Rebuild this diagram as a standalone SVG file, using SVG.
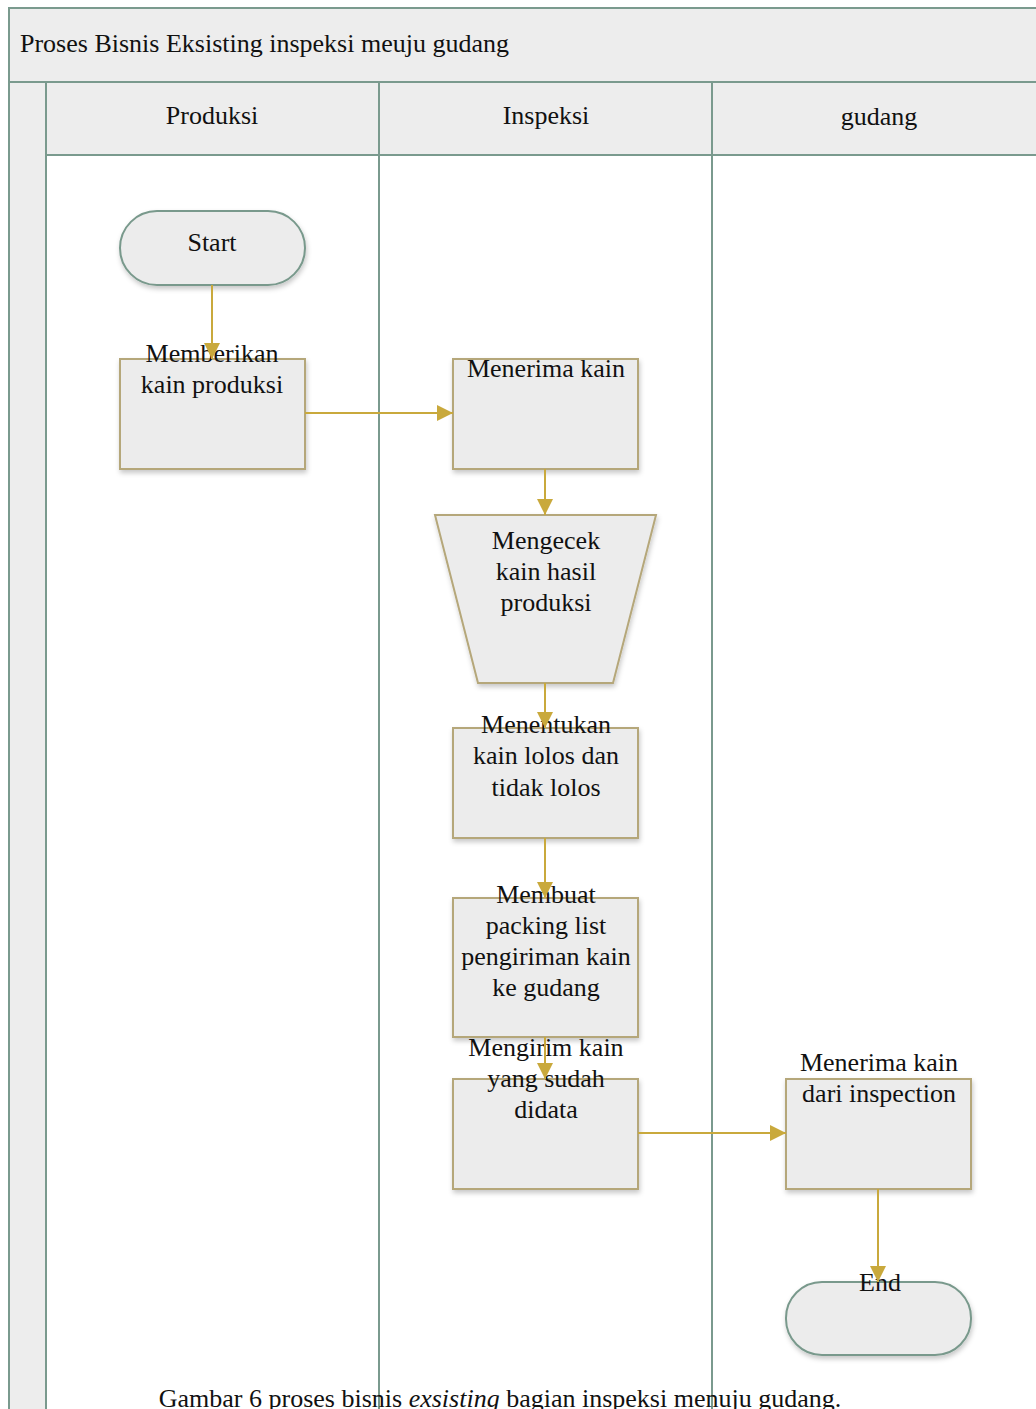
<svg xmlns="http://www.w3.org/2000/svg" width="1036" height="1409" viewBox="0 0 1036 1409">
<defs>
<filter id="sh" x="-10%" y="-10%" width="130%" height="130%"><feDropShadow dx="1" dy="3" stdDeviation="2.5" flood-color="#000" flood-opacity="0.22"/></filter>
<marker id="ar" viewBox="0 0 10 10" refX="10" refY="5" markerWidth="16" markerHeight="16" markerUnits="userSpaceOnUse" orient="auto"><path d="M0,0 L10,5 L0,10 z" fill="#c9a93c"/></marker>
</defs>
<style>
.lane{fill:#ededed;stroke:#7a9a8e;stroke-width:2}
.body{fill:#fff;stroke:#7a9a8e;stroke-width:2}
.box{fill:#ececec;stroke:#b5a77a;stroke-width:2;filter:url(#sh)}
.term{fill:#ececec;stroke:#79998c;stroke-width:2;filter:url(#sh)}
.t{font-family:"Liberation Serif","Times New Roman",serif;font-size:26px;fill:#111;text-anchor:middle}
.tl{font-family:"Liberation Serif","Times New Roman",serif;font-size:26px;fill:#111}
.c{stroke:#c9a93c;stroke-width:2;fill:none;marker-end:url(#ar)}
</style>
<g id="pool">
<rect class="lane" x="9" y="8" width="1040" height="74"/>
<text class="tl" x="20" y="52">Proses Bisnis Eksisting inspeksi meuju gudang</text>
<rect class="lane" x="9" y="82" width="37" height="1340"/>
<rect class="body" x="46" y="155" width="333" height="1270"/>
<rect class="body" x="379" y="155" width="333" height="1270"/>
<rect class="body" x="712" y="155" width="340" height="1270"/>
<rect class="lane" x="46" y="82" width="333" height="73"/>
<rect class="lane" x="379" y="82" width="333" height="73"/>
<rect class="lane" x="712" y="82" width="340" height="73"/>
<text class="t" x="212" y="124">Produksi</text>
<text class="t" x="546" y="124">Inspeksi</text>
<text class="t" x="879" y="125">gudang</text>
</g>
<g id="start">
<rect class="term" x="120" y="211" width="185" height="74" rx="37"/>
<text class="t" x="212" y="251">Start</text>
</g>
<g id="memberikan">
<rect class="box" x="120" y="359" width="185" height="110"/>
<text class="t" x="212" y="362">Memberikan</text>
<text class="t" x="212" y="393">kain produksi</text>
</g>
<g id="menerima">
<rect class="box" x="453" y="359" width="185" height="110"/>
<text class="t" x="546" y="377">Menerima kain</text>
</g>
<g id="mengecek">
<polygon class="box" points="435,515 656,515 613,683 478,683"/>
<text class="t" x="546" y="549">Mengecek</text>
<text class="t" x="546" y="580">kain hasil</text>
<text class="t" x="546" y="611">produksi</text>
</g>
<g id="menentukan">
<rect class="box" x="453" y="728" width="185" height="110"/>
<text class="t" x="546" y="733">Menentukan</text>
<text class="t" x="546" y="764">kain lolos dan</text>
<text class="t" x="546" y="796">tidak lolos</text>
</g>
<g id="membuat">
<rect class="box" x="453" y="898" width="185" height="139"/>
<text class="t" x="546" y="903">Membuat</text>
<text class="t" x="546" y="934">packing list</text>
<text class="t" x="546" y="965">pengiriman kain</text>
<text class="t" x="546" y="996">ke gudang</text>
</g>
<g id="mengirim">
<rect class="box" x="453" y="1079" width="185" height="110"/>
<text class="t" x="546" y="1056">Mengirim kain</text>
<text class="t" x="546" y="1087">yang sudah</text>
<text class="t" x="546" y="1118">didata</text>
</g>
<g id="menerima2">
<rect class="box" x="786" y="1079" width="185" height="110"/>
<text class="t" x="879" y="1071">Menerima kain</text>
<text class="t" x="879" y="1102">dari inspection</text>
</g>
<g id="end">
<rect class="term" x="786" y="1282" width="185" height="73" rx="36"/>
<text class="t" x="880" y="1291">End</text>
</g>
<g id="connectors">
<line class="c" x1="212" y1="285" x2="212" y2="359"/>
<line class="c" x1="305" y1="413" x2="453" y2="413"/>
<line class="c" x1="545" y1="469" x2="545" y2="515"/>
<line class="c" x1="545" y1="683" x2="545" y2="728"/>
<line class="c" x1="545" y1="838" x2="545" y2="898"/>
<line class="c" x1="545" y1="1037" x2="545" y2="1079"/>
<line class="c" x1="638" y1="1133" x2="786" y2="1133"/>
<line class="c" x1="878" y1="1189" x2="878" y2="1282"/>
</g>
<text class="t" x="500" y="1407">Gambar 6 proses bisnis <tspan font-style="italic">exsisting</tspan> bagian inspeksi menuju gudang.</text>
</svg>
